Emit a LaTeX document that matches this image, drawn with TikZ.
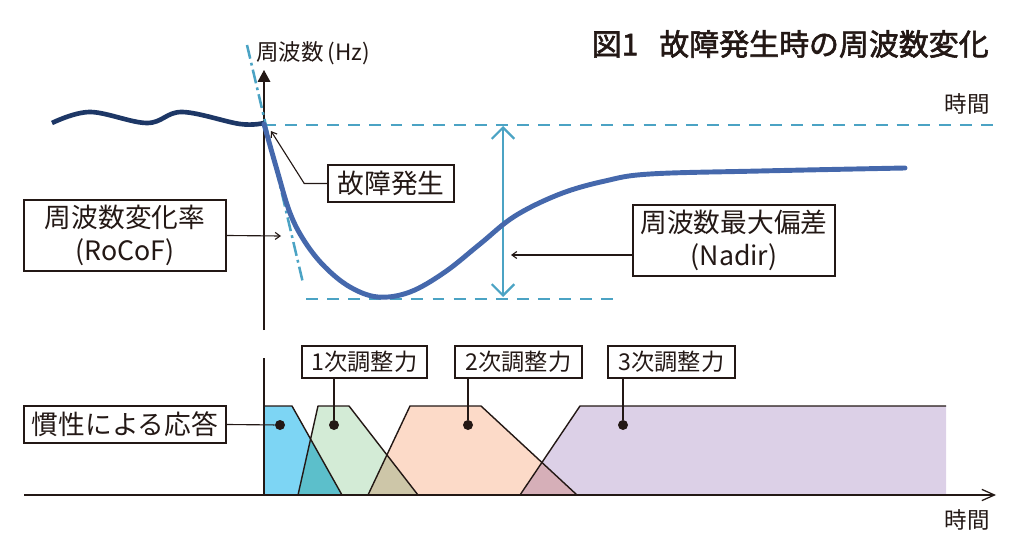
\documentclass[tikz,border=0pt]{standalone}
\usepackage{fontspec}
\setmainfont{Noto Sans CJK JP}
\newfontfamily\titlefont{Noto Sans CJK JP}[FakeBold=2]
\usetikzlibrary{arrows.meta}
\definecolor{ink}{HTML}{231815}
\definecolor{navy}{HTML}{1D3766}
\definecolor{curveblue}{HTML}{4568AC}
\definecolor{guideblue}{HTML}{4BA3C4}
\definecolor{inertiafill}{HTML}{7DD5F4}
\definecolor{primfill}{HTML}{D3EBD6}
\definecolor{secfill}{HTML}{FCDAC8}
\definecolor{terfill}{HTML}{DCD0E7}
\definecolor{ovlA}{HTML}{5CBFCB}
\definecolor{ovlB}{HTML}{CDC6A8}
\definecolor{ovlC}{HTML}{D6AFB8}

\begin{document}
\begin{tikzpicture}[x=0.25mm, y=-0.25mm,
  labelbox/.style={draw=ink, line width=1.1pt, text=ink, inner sep=0pt, align=center, font=\fontsize{19}{23}\selectfont},
  smallbox/.style={labelbox, font=\fontsize{16.5}{20}\selectfont},
  axislabel/.style={text=ink, inner sep=0pt, font=\fontsize{16}{19}\selectfont},
  leader/.style={ink, line width=0.8pt},
  pointer/.style={ink, line width=0.8pt, -{Straight Barb[length=3.5pt,width=5pt]}},
  guide/.style={guideblue, line width=1.8pt, dash pattern=on 8.5pt off 6.5pt},
  spot/.style={circle, fill=ink, inner sep=0pt, minimum size=2.5mm},
  outline/.style={ink, line width=1pt, line join=round}]
  \useasboundingbox (0,0) rectangle (1024,559);

  % title
  \node[anchor=east, text=ink, inner sep=0pt, font=\titlefont\fontsize{21.3}{25}\selectfont] (title) at (989,44) {図1\hspace{0.7em}故障発生時の周波数変化};

  % upper axis
  \draw[ink, line width=0.9pt, -{Triangle[length=8.5pt,width=9pt]}] (264,330) -- (264,70);
  \node[axislabel, anchor=west] (fhz) at (256,53) {周波数\,(Hz)};
  \node[axislabel, anchor=east] (ttop) at (990,104) {時間};

  % reference levels and RoCoF slope
  \draw[guide] (264,125) -- (998,125);
  \draw[guide] (306,299) -- (615,299);
  \draw[guideblue, line width=1.8pt, dash pattern=on 10pt off 3pt on 2pt off 3pt] (247,45) -- (303,283);
  \draw[guideblue, line width=1.6pt, {Straight Barb[length=8pt,width=16pt]}-{Straight Barb[length=8pt,width=16pt]}] (503,126) -- (503,297);

  % frequency before and after the fault
  \draw[navy, line width=3.3pt] plot[smooth, tension=0.6] coordinates {(52,123) (90,112) (147,123) (182,112) (240,124) (264,123)};
  \draw[curveblue, line width=3.5pt, line cap=round] plot[smooth, tension=0.6] coordinates {(264,124) (277,170) (290,213) (305,242) (325,267) (350,287) (378,297) (410,292) (445,272) (480,244) (515,216) (560,194) (605,181) (650,174) (760,171) (905,168)};

  % callouts
  \node[labelbox, minimum width=31.5mm, minimum height=9.25mm] (fault) at (391,183.5) {故障発生};
  \coordinate (onset) at (271,131);
  \draw[pointer] (fault.west) -- ++(-23,0) -- (onset);

  \node[labelbox, minimum width=50.5mm, minimum height=17.75mm] (rocof) at (125,235.5) {周波数変化率\\(RoCoF)};
  \coordinate (slope) at (281,236);
  \draw[pointer] (rocof.east) -- (slope);

  \node[labelbox, minimum width=50.5mm, minimum height=17.75mm] (nadir) at (734,240.5) {周波数最大偏差\\(Nadir)};
  \coordinate (dev) at (511,255);
  \draw[pointer] (nadir.west |- dev) -- (dev);

  % response bands
  \def\bandA{(264,495) -- (264,406) -- (292,406) -- (342,495) -- cycle}
  \def\bandB{(298,495) -- (318,406) -- (349,406) -- (418,495) -- cycle}
  \def\bandC{(368,495) -- (410,406) -- (481,406) -- (577,495) -- cycle}
  \def\bandD{(520,495) -- (580,406) -- (946,406) -- (946,495) -- cycle}
  \fill[inertiafill] \bandA;
  \fill[primfill] \bandB;
  \fill[secfill] \bandC;
  \fill[terfill] \bandD;
  \begin{scope}
    \clip \bandA;
    \fill[ovlA] \bandB;
  \end{scope}
  \begin{scope}
    \clip \bandB;
    \fill[ovlB] \bandC;
  \end{scope}
  \begin{scope}
    \clip \bandC;
    \fill[ovlC] \bandD;
  \end{scope}
  \draw[outline] (264,406) -- (292,406) -- (342,495);
  \draw[outline] (298,495) -- (318,406) -- (349,406) -- (418,495);
  \draw[outline] (368,495) -- (410,406) -- (481,406) -- (577,495);
  \draw[outline] (520,495) -- (580,406) -- (946,406);

  % lower axes
  \draw[ink, line width=0.9pt] (264,495) -- (264,358);
  \draw[ink, line width=0.9pt, -{Straight Barb[length=9pt,width=8pt]}] (24,495) -- (996,495);
  \node[axislabel, anchor=east] (tbottom) at (990,520) {時間};

  % band labels
  \node[spot] (d0) at (280,425) {};
  \node[spot] (d1) at (334,425) {};
  \node[spot] (d2) at (468,425) {};
  \node[spot] (d3) at (623,425) {};
  \node[labelbox, minimum width=50.5mm, minimum height=9.25mm] (inertia) at (125,424.5) {慣性による応答};
  \node[smallbox, minimum width=31.25mm, minimum height=8mm] (p1) at (364.5,362) {1次調整力};
  \node[smallbox, minimum width=31.75mm, minimum height=8mm] (p2) at (518.5,362) {2次調整力};
  \node[smallbox, minimum width=31.75mm, minimum height=8mm] (p3) at (671.5,362) {3次調整力};
  \draw[leader] (inertia.east) -- (d0);
  \foreach \i in {1,2,3}
    \draw[leader] (d\i |- p\i.south) -- (d\i);
\end{tikzpicture}
\end{document}
